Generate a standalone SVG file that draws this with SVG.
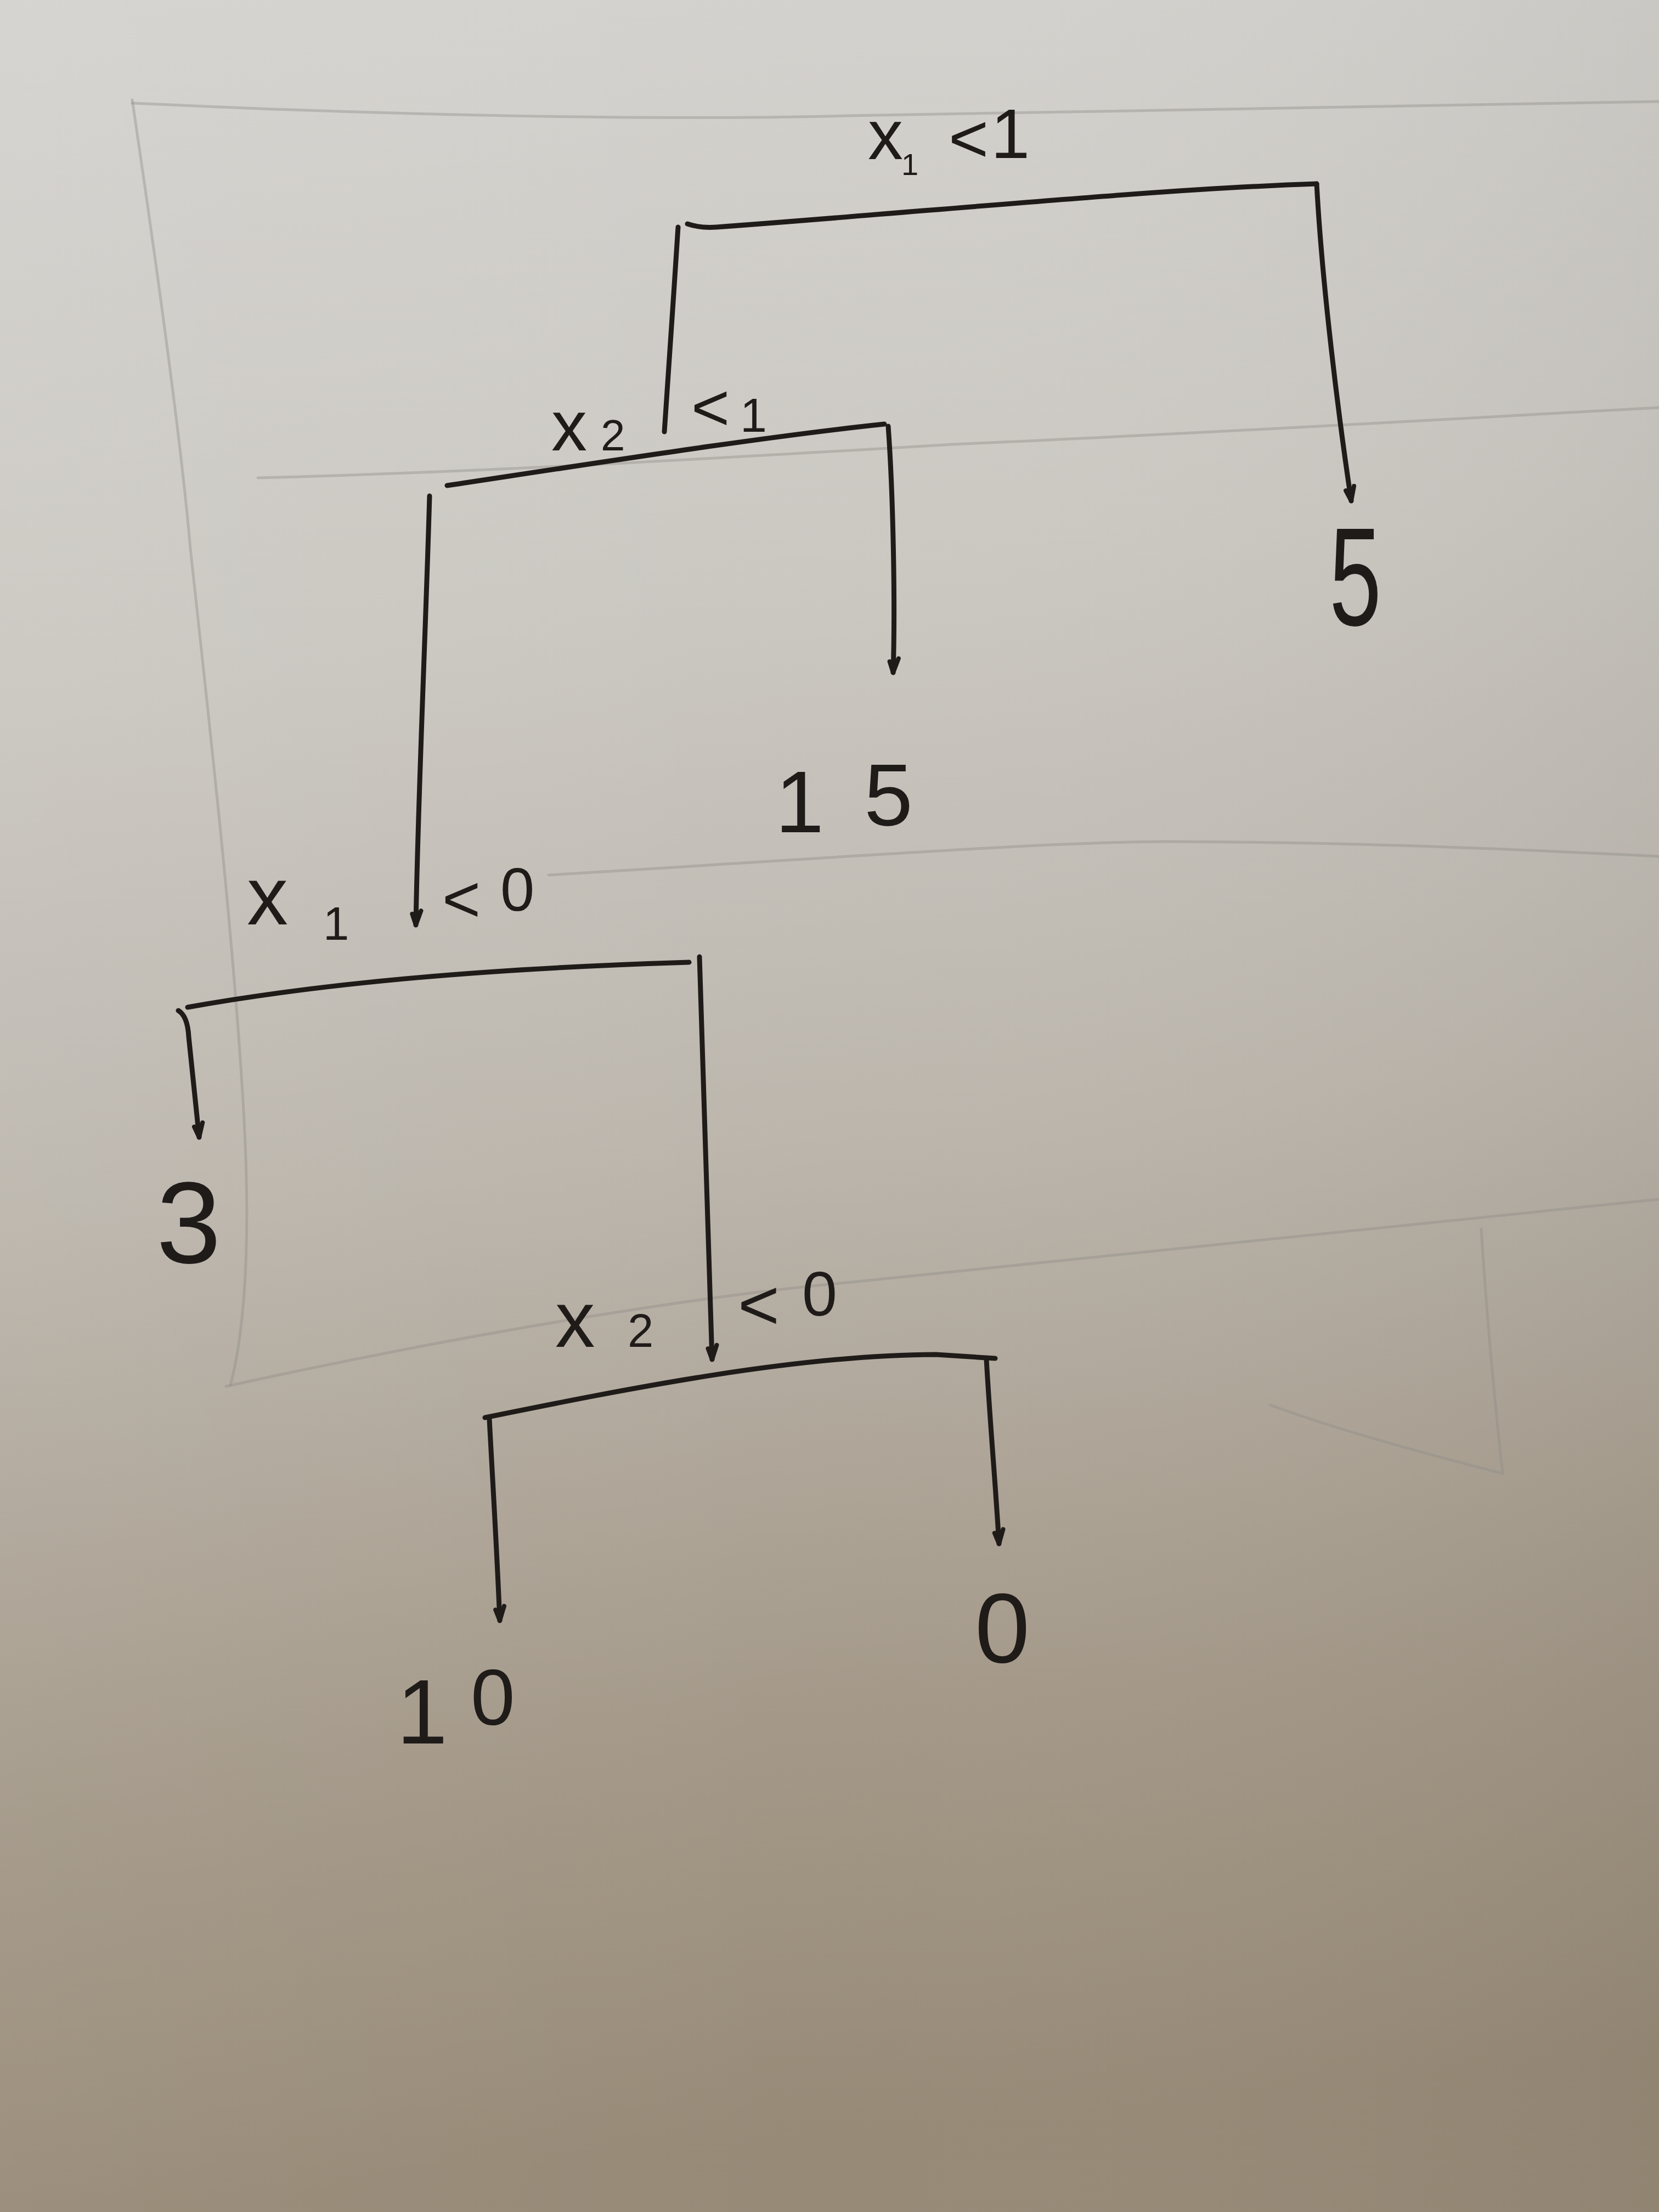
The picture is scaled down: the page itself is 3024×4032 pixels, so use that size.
<svg xmlns="http://www.w3.org/2000/svg" width="3024" height="4032" viewBox="0 0 3024 4032">
  <defs>
    <linearGradient id="paper" x1="0" y1="0" x2="0.08" y2="1">
      <stop offset="0" stop-color="#d5d3cf"/>
      <stop offset="0.3" stop-color="#cbc8c2"/>
      <stop offset="0.55" stop-color="#bcb6ad"/>
      <stop offset="0.8" stop-color="#a59a8a"/>
      <stop offset="1" stop-color="#978a77"/>
    </linearGradient>
    <linearGradient id="shade" x1="0" y1="0" x2="1" y2="0">
      <stop offset="0" stop-color="#ffffff" stop-opacity="0.04"/>
      <stop offset="0.5" stop-color="#ffffff" stop-opacity="0"/>
      <stop offset="1" stop-color="#000000" stop-opacity="0.04"/>
    </linearGradient>
    <marker id="tick" markerUnits="userSpaceOnUse" markerWidth="80" markerHeight="80" viewBox="-40 -40 80 80" refX="0" refY="0" orient="auto" overflow="visible">
      <path d="M-26,-9 L0,0 L-20,7" fill="none" stroke="#1f1b19" stroke-width="8" stroke-linecap="round" stroke-linejoin="round"/>
    </marker>
    <style>
      .ink { fill: none; stroke: #1f1b19; stroke-width: 9; stroke-linecap: round; stroke-linejoin: round; }
      .pencil { fill: none; stroke: #8e8c88; stroke-width: 5; stroke-opacity: 0.4; stroke-linecap: round; }
      .lbl { font-family: "Liberation Sans", Arial, sans-serif; fill: #1f1b19; }
    </style>
  </defs>

  <rect x="0" y="0" width="3024" height="4032" fill="url(#paper)"/>
  <rect x="0" y="0" width="3024" height="4032" fill="url(#shade)"/>

  <g id="paper-marks">
    <path class="pencil" d="M241,188 C700,210 1200,220 1543,211 C2100,198 2600,190 3024,185"/>
    <path class="pencil" d="M241,182 C285,480 330,800 347,1000 C385,1350 425,1700 444,2025 C460,2300 440,2450 420,2525"/>
    <path class="pencil" d="M470,871 C900,860 1400,830 1736,810 C2300,785 2700,760 3024,743"/>
    <path class="pencil" d="M1000,1595 C1500,1565 1900,1535 2122,1534 C2500,1535 2800,1550 3024,1561"/>
    <path class="pencil" d="M412,2527 C900,2420 1300,2360 1543,2338 C2100,2280 2600,2230 3024,2186"/>
    <path class="pencil" d="M2700,2240 C2710,2400 2725,2560 2739,2686 M2315,2561 C2450,2610 2600,2650 2739,2686" stroke-opacity="0.2"/>
  </g>

  <g id="connectors">
    <!-- split 1: x1 < 1 -->
    <path class="ink" d="M1253,408 Q1275,416 1306,414 C1700,385 2100,345 2400,335"/>
    <path class="ink" d="M1236,414 C1228,540 1218,680 1211,787"/>
    <path class="ink" marker-end="url(#tick)" d="M2400,335 C2410,520 2440,760 2463,913"/>
    <!-- split 2: x2 < 1 -->
    <path class="ink" d="M815,885 C1100,842 1400,795 1612,773"/>
    <path class="ink" marker-end="url(#tick)" d="M783,904 C776,1150 762,1450 758,1686"/>
    <path class="ink" marker-end="url(#tick)" d="M1619,777 C1628,900 1632,1100 1628,1226"/>
    <!-- split 3: x1 < 0 -->
    <path class="ink" d="M342,1836 C600,1790 900,1765 1256,1754"/>
    <path class="ink" marker-end="url(#tick)" d="M325,1842 Q342,1852 344,1890 L363,2073"/>
    <path class="ink" marker-end="url(#tick)" d="M1275,1744 C1285,2000 1293,2250 1298,2478"/>
    <!-- split 4: x2 < 0 -->
    <path class="ink" d="M884,2584 C1150,2530 1450,2470 1706,2469 L1814,2476"/>
    <path class="ink" marker-end="url(#tick)" d="M892,2587 C898,2700 906,2830 911,2954"/>
    <path class="ink" marker-end="url(#tick)" d="M1798,2478 C1805,2600 1815,2710 1821,2814"/>
  </g>

  <g id="split-1">
    <text class="lbl"><tspan x="1582" y="290" font-size="128">x</tspan><tspan x="1643" y="319" font-size="56">1 </tspan><tspan x="1729" y="295" font-size="125">&lt;</tspan><tspan x="1806" y="288" font-size="128">1</tspan></text>
  </g>
  <g id="split-2">
    <text class="lbl"><tspan x="1005" y="821" font-size="130">x</tspan><tspan x="1095" y="821" font-size="80">2 </tspan><tspan x="1260" y="784" font-size="120">&lt;</tspan><tspan x="1349" y="787" font-size="88">1</tspan></text>
  </g>
  <g id="split-3">
    <text class="lbl"><tspan x="450" y="1685" font-size="150">x</tspan><tspan x="589" y="1713" font-size="85">1 </tspan><tspan x="806" y="1680" font-size="120">&lt;</tspan><tspan x="912" y="1660" font-size="112">0</tspan></text>
  </g>
  <g id="split-4">
    <text class="lbl"><tspan x="1012" y="2455" font-size="145">x</tspan><tspan x="1144" y="2455" font-size="85">2 </tspan><tspan x="1345" y="2423" font-size="130">&lt;</tspan><tspan x="1462" y="2398" font-size="115">0</tspan></text>
  </g>

  <g id="leaf-5">
    <text class="lbl" x="2423" y="1140" font-size="255" textLength="95" lengthAdjust="spacingAndGlyphs">5</text>
  </g>
  <g id="leaf-15">
    <text class="lbl"><tspan x="1413" y="1517" font-size="160">1</tspan><tspan x="1575" y="1504" font-size="160">5</tspan></text>
  </g>
  <g id="leaf-3">
    <text class="lbl" x="285" y="2302" font-size="212">3</text>
  </g>
  <g id="leaf-10">
    <text class="lbl"><tspan x="723" y="3178" font-size="167">1</tspan><tspan x="858" y="3144" font-size="145">0</tspan></text>
  </g>
  <g id="leaf-0">
    <text class="lbl" x="1777" y="3030" font-size="180">0</text>
  </g>
</svg>
